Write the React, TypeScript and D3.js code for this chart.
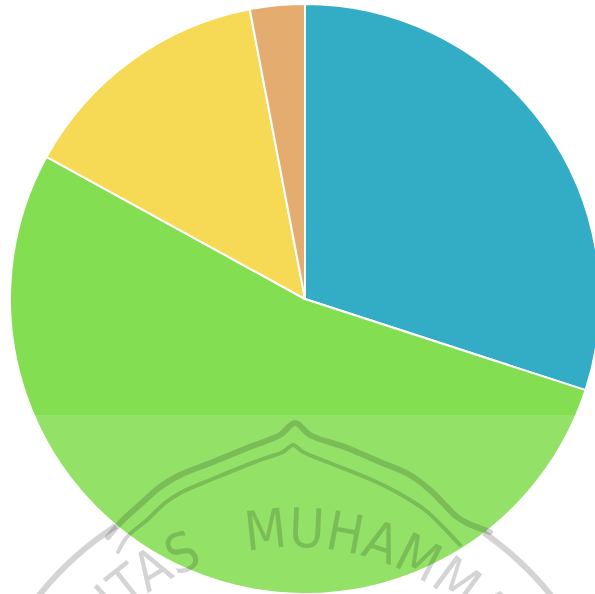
import React from "react";
import * as d3 from "d3";

// slice data, clockwise from 12 o'clock
const labels = ["A", "B", "C", "D"];
const values = [30, 53, 14, 3];
const colors = ["#33adc6", "#84de52", "#f6d955", "#e5ac70"];

// watermark logo outline (decoration, not data)
const archOuter: [number, number][] = [
  [108, 537], [123, 520], [143, 502], [160, 487], [180, 475], [213, 462],
  [247, 448], [280, 435], [295, 423], [310, 435], [347, 448], [380, 462],
  [410, 475], [430, 490], [443, 503], [457, 517], [467, 523], [490, 532],
];
const archInner: [number, number][] = [
  [118, 552], [127, 537], [147, 520], [165, 503], [182, 492], [215, 478],
  [260, 460], [283, 452], [293, 445], [303, 452], [330, 463], [372, 480],
  [400, 494], [425, 510], [443, 527], [460, 545],
];

const W = 595;
const H = 594;
const cx = 305;
const cy = 299;
const R = 295;

export default function App() {
  const pie = d3.pie<number>().sort(null).value((d) => d);
  const arc = d3.arc<d3.PieArcDatum<number>>().innerRadius(0).outerRadius(R);
  const arcs = pie(values);

  const line = d3.line().curve(d3.curveCatmullRom.alpha(0.5));

  // logo ring, only the lower parts below where the arch meets it
  const lx = 295;
  const ly = 802;
  const ringR = 329;
  const ringArc = d3.arc().innerRadius(ringR).outerRadius(ringR);
  const ringLeft = ringArc({ innerRadius: ringR, outerRadius: ringR, startAngle: -Math.PI, endAngle: (-33 * Math.PI) / 180 }) || "";
  const ringRight = ringArc({ innerRadius: ringR, outerRadius: ringR, startAngle: (35 * Math.PI) / 180, endAngle: Math.PI }) || "";

  const textR = 255;
  const L = 2 * Math.PI * textR;
  const offsetAt = (deg: number) => ((deg + 180) / 360) * L;
  const textPathD = `M ${lx} ${ly + textR} A ${textR} ${textR} 0 1 1 ${lx} ${ly - textR} A ${textR} ${textR} 0 1 1 ${lx} ${ly + textR}`;
  const mark = "rgba(0,0,0,0.17)";
  const font = "'Liberation Sans Narrow', 'DejaVu Sans Condensed', 'Liberation Sans', sans-serif";

  return (
    <svg
      width={W}
      height={H}
      style={{ position: "fixed", left: 0, top: 0, background: "#fff" }}
    >
      <g transform={`translate(${cx},${cy})`}>
        {arcs.map((a, i) => (
          <path
            key={labels[i]}
            d={arc(a) || ""}
            fill={colors[i]}
            stroke="#fff"
            strokeWidth={2}
            strokeLinejoin="round"
          />
        ))}
      </g>
      <rect x={0} y={415} width={W} height={H - 415} fill="#fff" opacity={0.12} />
      <g>
        <g transform={`translate(${lx},${ly})`}>
          <path d={ringLeft} fill="none" stroke={mark} strokeWidth={6} />
          <path d={ringRight} fill="none" stroke={mark} strokeWidth={6} />
        </g>
        <path d={line(archOuter) || ""} fill="none" stroke={mark} strokeWidth={6} strokeLinecap="round" strokeLinejoin="round" />
        <path d={line(archInner) || ""} fill="none" stroke={mark} strokeWidth={4} strokeLinecap="round" strokeLinejoin="round" />
        <defs>
          <path id="logo-text" d={textPathD} />
        </defs>
        <text fontFamily={font} fontSize={54} fill={mark}>
          <textPath href="#logo-text" startOffset={offsetAt(-21)} textAnchor="end">
            UNIVERSITAS
          </textPath>
        </text>
        <text fontFamily={font} fontSize={54} fill={mark}>
          <textPath href="#logo-text" startOffset={offsetAt(-11)} textAnchor="start">
            MUHAMMADIYAH
          </textPath>
        </text>
      </g>
    </svg>
  );
}
